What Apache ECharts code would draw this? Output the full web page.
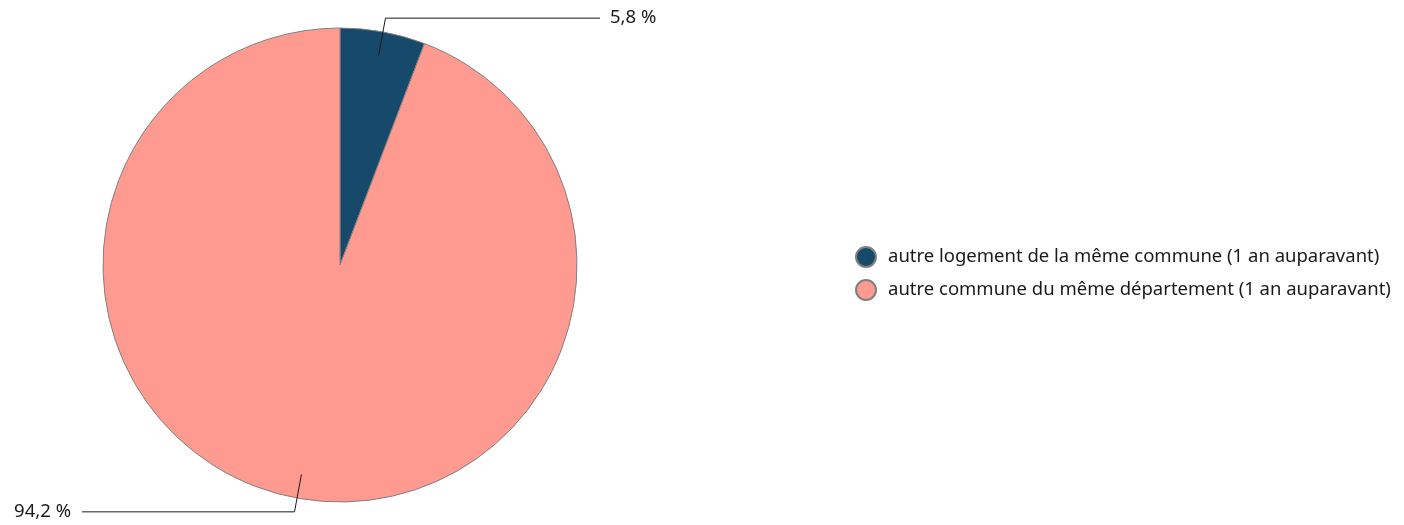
<!DOCTYPE html>
<html>
<head>
    <meta charset="utf-8">
    <title>ECharts</title>
    <script src="https://cdn.jsdelivr.net/npm/echarts@6/dist/echarts.min.js"></script>
</head>
<body style="margin:0">
<div id="main" style="width:1404px;height:525px;"></div>
<script type="text/javascript">
    var categories = ['autre logement de la même commune (1 an auparavant)', 'autre commune du même département (1 an auparavant)'];
    var values = [5.8, 94.2];
    var colors = ['#174a6a', '#ff9a90'];

    var cx = 340, cy = 265, R = 237;
    var total = values[0] + values[1];

    var myChart = echarts.init(document.getElementById('main'));

    // angle du milieu de chaque part (sens horaire depuis le haut)
    function midAngle(idx) {
        var before = 0;
        for (var i = 0; i < idx; i++) before += values[i];
        return (before + values[idx] / 2) / total * 2 * Math.PI;
    }

    var pieData = categories.map(function (name, i) {
        return { name: name, value: values[i] };
    });

    myChart.setOption({
        textStyle: { fontFamily: 'Noto Sans' },
        color: colors,
        legend: {
            orient: 'vertical',
            left: 850,
            top: 241,
            icon: 'circle',
            itemWidth: 20,
            itemHeight: 20,
            itemGap: 11,
            textStyle: { fontSize: 18.5, color: '#1a1a1a', fontFamily: 'Noto Sans', padding: [0, 0, 0, 7] }
        },
        series: [{
            type: 'pie',
            center: [cx, cy],
            radius: R,
            startAngle: 90,
            animation: false,
            itemStyle: { borderColor: '#808080', borderWidth: 1 },
            label: { show: false },
            labelLine: { show: false },
            data: pieData
        }, {
            // seconde couche transparente : étiquettes et traits au-dessus des parts
            type: 'pie',
            z: 5,
            silent: true,
            center: [cx, cy],
            radius: R,
            startAngle: 90,
            animation: false,
            itemStyle: { color: 'rgba(0,0,0,0)', borderWidth: 0 },
            label: {
                show: true,
                formatter: function (p) { return String(p.value).replace('.', ',') + ' %'; },
                fontSize: 18.5,
                color: '#1a1a1a',
                fontFamily: 'Noto Sans'
            },
            labelLine: { show: true, lineStyle: { color: '#1a1a1a', width: 1 } },
            labelLayout: function (params) {
                var a = midAngle(params.dataIndex);
                var s = Math.sin(a), c = Math.cos(a);
                var p0 = [cx + 213 * s, cy - 213 * c];
                var p1 = [cx + 251 * s, cy - 251 * c];
                var right = s >= 0;
                var p2 = [right ? 600 : 82, p1[1]];
                return {
                    x: right ? 610 : 71,
                    y: p1[1],
                    align: right ? 'left' : 'right',
                    verticalAlign: 'middle',
                    labelLinePoints: [p0, p1, p2]
                };
            },
            data: pieData
        }]
    });
</script>
</body>
</html>
